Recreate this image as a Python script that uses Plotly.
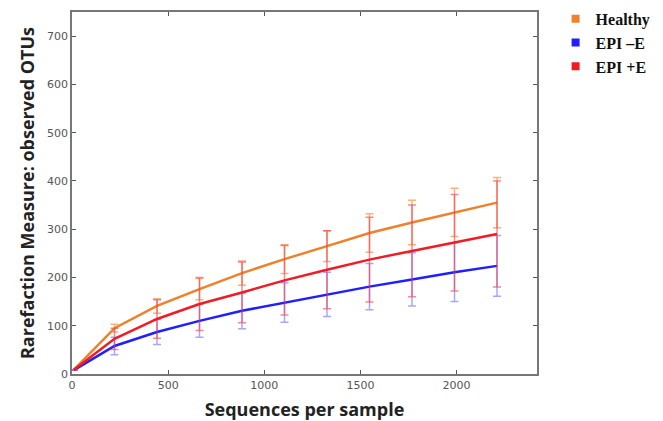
import plotly.graph_objects as go

seqs = [10, 221, 442, 663, 884, 1105, 1326, 1547, 1768, 1989, 2210]

healthy = [9, 95, 141, 176, 209, 238, 265, 292, 314, 335, 355]
healthy_err = [0, 8, 15, 22, 25, 30, 32, 40, 46, 50, 52]

epi_minus = [8, 58, 87, 110, 131, 148, 165, 181, 196, 211, 224]
epi_minus_err = [0, 18, 26, 34, 37, 41, 46, 48, 55, 61, 63]

epi_plus = [9, 73, 114, 145, 169, 194, 216, 237, 255, 272, 290]
epi_plus_err = [0, 22, 40, 55, 63, 72, 81, 88, 95, 100, 110]

names = ["Healthy", "EPI \u2013E", "EPI +E"]
colors = ["#f0802a", "#1f1fff", "#f01c24"]
err_colors = ["rgba(240,128,42,0.6)", "rgba(60,60,255,0.45)", "rgba(245,60,70,0.6)"]

series = [(healthy, healthy_err), (epi_minus, epi_minus_err), (epi_plus, epi_plus_err)]

fig = go.Figure()
for (vals, errs), name, col, ecol in zip(series, names, colors, err_colors):
    fig.add_trace(go.Scatter(
        x=seqs, y=vals, mode="lines", name=name, showlegend=False,
        line=dict(color=col, width=2.5),
        error_y=dict(type="data", array=errs, visible=True, color=ecol,
                     thickness=1.5, width=4),
    ))
for name, col in zip(names, colors):
    fig.add_trace(go.Scatter(
        x=[None], y=[None], mode="markers", name="<b>" + name + "</b>",
        marker=dict(symbol="square", size=8, color=col),
    ))

axis_common = dict(
    showgrid=False, zeroline=False, showline=True, mirror="ticks",
    linecolor="#777", linewidth=1.5, ticks="inside", ticklen=4,
    tickcolor="#555", tickfont=dict(family="DejaVu Sans", size=11, color="#555"),
    automargin=False,
)

fig.update_xaxes(range=[0, 2418], tickvals=[0, 500, 1000, 1500, 2000],
                 title=dict(text="<b>Sequences per sample</b>",
                            font=dict(family="Open Sans", size=18, color="#222"),
                            standoff=12),
                 **axis_common)
fig.update_yaxes(range=[0, 750], tickvals=[0, 100, 200, 300, 400, 500, 600, 700],
                 title=dict(text="<b>Rarefaction Measure: observed OTUs</b>",
                            font=dict(family="Open Sans", size=18, color="#222"),
                            standoff=8),
                 **axis_common)

fig.update_layout(
    width=655, height=413,
    margin=dict(l=64, r=126, t=4, b=47, autoexpand=False),
    plot_bgcolor="white", paper_bgcolor="white",
    legend=dict(x=1.04, y=1.028, xanchor="left", yanchor="top",
                font=dict(family="Liberation Serif", size=16, color="#111"),
                itemwidth=30, tracegroupgap=0, bgcolor="rgba(0,0,0,0)"),
)

fig.write_html("out.html")
